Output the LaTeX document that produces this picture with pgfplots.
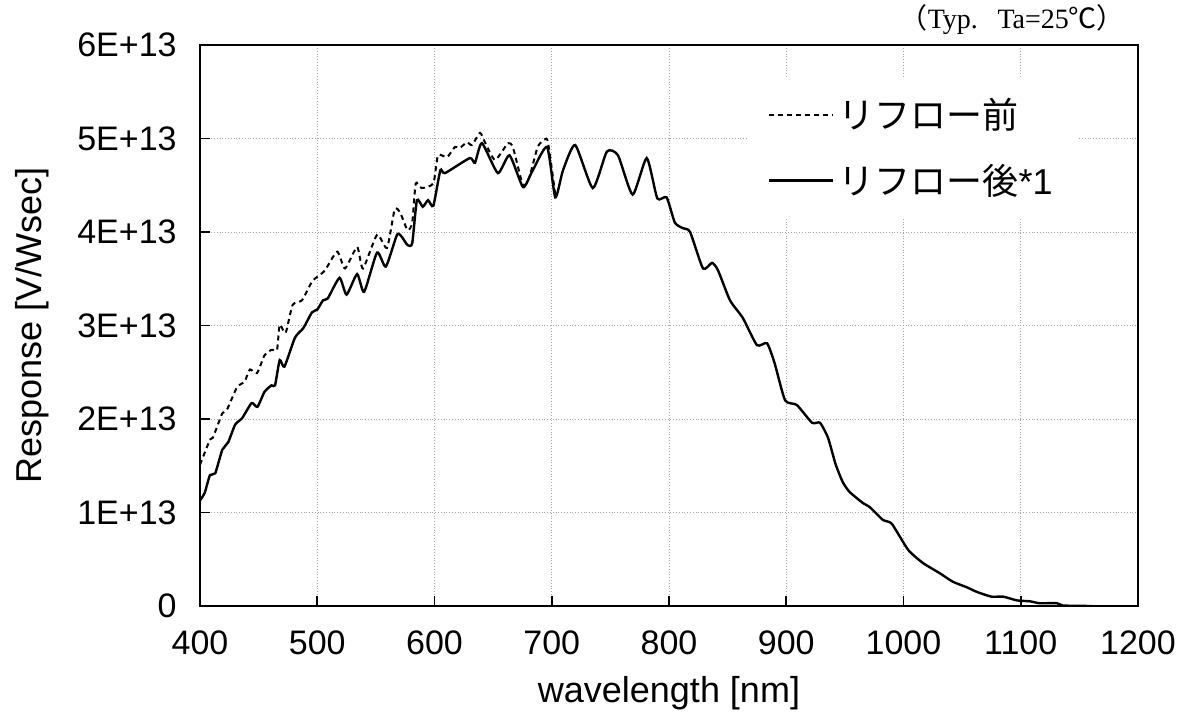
\documentclass[border=0pt]{standalone}
\usepackage{fontspec}
\setmainfont{Liberation Sans}
\newfontfamily\cjk{Noto Sans CJK JP}
\newfontfamily\serifjp{Liberation Serif}
\usepackage{pgfplots}
\pgfplotsset{compat=1.18}

% reflow response, values in units of 1E+13 V/Wsec
\pgfplotstableread{
nm    r
400   1.51
408.5 1.78
411   1.80
419   2.06
423   2.10
431.6 2.34
438   2.40
442.6 2.53
448.6 2.49
455   2.68
461   2.74
465.7 2.74
468   3.01
473   2.92
479   3.22
487   3.27
495.5 3.47
500   3.52
506.6 3.59
517   3.79
523.7 3.61
534   3.84
539   3.61
551   3.97
559.5 3.83
566   4.24
570.6 4.21
577   4.02
581   4.10
584   4.52
589   4.47
599   4.52
603   4.82
610.7 4.80
617.5 4.91
621.7 4.90
627.7 4.96
632   4.93
638.8 5.06
643   4.96
651.6 4.77
662.7 4.95
667   4.90
675.5 4.50
681   4.59
688   4.91
694   4.99
696.8 4.96
703   4.40
}\before

\pgfplotstableread{
nm     r
400    1.13
404    1.21
408.5  1.40
413    1.42
419    1.67
424    1.75
430    1.94
436    2.01
444    2.17
449    2.13
455    2.29
461    2.36
464    2.36
468    2.63
472    2.56
481    2.87
488    2.97
495.5  3.14
500    3.17
505    3.27
509    3.29
519    3.51
525    3.33
534    3.55
540    3.36
551    3.78
558.5  3.63
568    3.97
572    3.95
577    3.86
581    3.88
585    4.34
590    4.27
594.5  4.34
599    4.28
605    4.66
609    4.63
630    4.79
634.5  4.74
640.5  4.95
654    4.63
664    4.82
675.5  4.48
683    4.64
696    4.91
703    4.37
709.6  4.66
720    4.93
735    4.47
747    4.86
756.5  4.82
769    4.40
781    4.79
790    4.36
798    4.37
805    4.10
812    4.04
818    4.00
829    3.61
836.7  3.67
841.8  3.59
852    3.27
863    3.08
875    2.79
883.6  2.81
890    2.60
899    2.20
909    2.15
922    1.96
928.8  1.96
935.6  1.80
942    1.52
948    1.33
954    1.22
965.5  1.10
971    1.06
982.5  0.92
990    0.88
1004   0.60
1016.6 0.46
1031   0.35
1042   0.26
1054   0.20
1062.7 0.15
1075   0.10
1085   0.10
1096.8 0.06
1108   0.05
1116   0.03
1131   0.03
1136   0.005
1161   0.0
}\after

\begin{document}
\begin{tikzpicture}
\begin{axis}[
  scale only axis,
  width=469pt, height=280.5pt,
  xmin=400, xmax=1200,
  ymin=0, ymax=6,
  xtick={400,500,...,1200},
  ytick={0,1,...,6},
  yticklabels={0,1E+13,2E+13,3E+13,4E+13,5E+13,6E+13},
  /pgf/number format/assume math mode=true,
  /pgf/number format/1000 sep={},
  tick pos=left,
  tick align=inside,
  major tick length=5pt,
  tick style={black, line width=0.9pt},
  axis line style={line width=1.1pt},
  grid=major,
  major grid style={densely dotted, gray!70, line width=0.4pt},
  ticklabel style={font=\fontsize{17}{19}\selectfont, inner sep=0pt},
  xticklabel style={yshift=-12pt},
  yticklabel style={xshift=-11.5pt},
  xlabel={wavelength [nm]},
  ylabel={Response [V/Wsec]},
  label style={font=\fontsize{18}{21}\selectfont},
  xlabel style={at={([yshift=-43.5pt]axis description cs:0.5,0)}, anchor=center},
  ylabel style={at={([xshift=-84pt]axis description cs:0,0.5)}, anchor=center},
  legend cell align=left,
  legend image code/.code={\draw[#1] (0pt,0pt) -- (32pt,0pt);},
  legend style={at={(0.584,0.941)}, anchor=north west, draw=none, fill=white,
    font=\fontsize{18}{21}\selectfont, inner xsep=10pt, inner ysep=8pt,
    row sep=12pt},
]
\addplot[black, line width=1pt, dash pattern=on 2.5pt off 2pt, smooth, tension=0.35]
  table[x=nm, y=r] {\before};
\addlegendentry{{\cjk リフロー前}}
\addplot[black, line width=1.2pt, smooth, tension=0.35]
  table[x=nm, y=r] {\after};
\addlegendentry{{\cjk リフロー後}*1}
\end{axis}
\node[anchor=east, font=\fontsize{14}{16}\selectfont\serifjp]
  at ([xshift=-3pt, yshift=12.5pt]current axis.north east)
  {{\cjk （}Typ.\hspace{0.7em}Ta=25{\cjk ℃）}};
\pgfresetboundingbox
\path ([xshift=-100pt, yshift=-58pt]current axis.south west)
  rectangle ([xshift=21.5pt, yshift=22.5pt]current axis.north east);
\end{tikzpicture}
\end{document}
